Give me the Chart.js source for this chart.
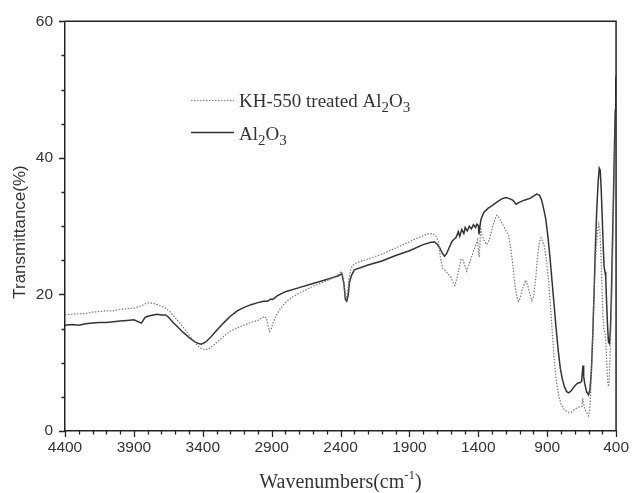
<!DOCTYPE html>
<html>
<head>
<meta charset="utf-8">
<script src="https://cdn.jsdelivr.net/npm/chart.js@4.4.0/dist/chart.umd.min.js"></script>
<style>
html,body{margin:0;padding:0;background:#fff;}
#wrap{width:636px;height:493px;position:relative;}
</style>
</head>
<body>
<div id="wrap"><canvas id="c" width="636" height="493"></canvas></div>
<script>
// ---- data ----
const xTickLabels = [4400, 3900, 3400, 2900, 2400, 1900, 1400, 900, 400];
const yTickLabels = [0, 20, 40, 60];

const al2o3Wavenumbers = [4400,4350,4300,4250,4200,4150,4100,4050,4000,3950,3900,3845,3820,3800,3760,3730,3700,3670,3650,3620,3580,3540,3500,3460,3430,3410,3380,3340,3300,3250,3200,3150,3100,3050,3000,2960,2930,2910,2890,2860,2800,2700,2600,2500,2420,2390,2375,2365,2355,2345,2335,2320,2300,2200,2100,2000,1900,1800,1750,1720,1700,1680,1660,1645,1630,1610,1590,1570,1560,1545,1535,1520,1505,1495,1480,1465,1450,1435,1420,1410,1400,1395,1388,1380,1360,1330,1300,1260,1230,1200,1170,1150,1125,1110,1080,1050,1020,1000,975,955,940,925,910,895,880,865,850,835,820,805,790,775,760,745,730,715,700,680,660,650,645,640,635,628,615,600,590,580,570,560,550,540,530,522,515,508,500,493,487,480,475,470,462,455,448,442,435,428,420,413,406,402,400];
const al2o3Values = [15.5,15.6,15.5,15.7,15.8,15.9,15.9,16.0,16.1,16.2,16.3,15.8,16.6,16.8,17.0,17.1,17.0,17.0,16.7,16.0,15.2,14.4,13.7,13.1,12.8,12.7,13.0,13.8,14.7,15.8,16.8,17.6,18.1,18.5,18.8,19.0,19.0,19.3,19.3,19.8,20.4,21.0,21.6,22.2,22.7,23.0,21.5,19.3,19.0,19.8,21.8,22.8,23.6,24.3,24.9,25.7,26.4,27.3,27.6,27.7,27.4,26.8,26.0,25.6,26.0,26.9,27.8,28.2,28.4,29.2,28.5,29.5,28.9,29.8,29.3,30.0,29.6,30.2,29.8,30.3,30.1,28.8,30.0,31.0,32.0,32.6,33.0,33.6,34.0,34.2,34.0,33.8,33.2,33.4,33.7,33.9,34.1,34.4,34.7,34.5,33.8,32.5,31.0,28.5,25.5,22.0,18.5,15.0,11.8,9.2,7.6,6.5,5.8,5.6,5.8,6.2,6.6,7.0,7.1,7.3,8.5,9.6,8.0,7.0,5.8,5.3,6.0,8.5,13.5,20.0,27.0,32.5,36.5,38.5,38.2,35.5,31.0,27.0,24.0,23.3,22.5,19.5,15.5,13.0,12.8,14.5,19.0,26.0,33.5,40.5,47.0,51.0,52.0];

const treatedWavenumbers = [4400,4350,4300,4250,4200,4150,4100,4050,4000,3950,3900,3850,3820,3790,3760,3730,3700,3670,3640,3610,3570,3530,3490,3450,3420,3390,3360,3320,3280,3240,3200,3150,3100,3050,3000,2970,2950,2935,2925,2915,2905,2890,2870,2840,2800,2750,2700,2600,2500,2420,2395,2380,2367,2358,2348,2338,2325,2300,2200,2100,2000,1900,1850,1800,1760,1730,1710,1690,1675,1660,1640,1620,1600,1580,1570,1555,1540,1525,1510,1495,1485,1470,1455,1440,1420,1405,1398,1393,1388,1383,1375,1360,1340,1320,1300,1280,1265,1250,1230,1210,1195,1180,1165,1150,1135,1120,1108,1095,1080,1065,1055,1040,1025,1012,1000,985,970,955,945,935,920,905,890,875,860,845,830,815,800,780,760,740,720,700,680,660,648,642,636,625,612,600,592,584,575,565,555,545,535,526,518,510,502,495,488,480,473,466,460,455,450,444,437,430,422,415,408,403,400];
const treatedValues = [17.0,17.1,17.2,17.2,17.4,17.5,17.6,17.6,17.8,17.9,18.0,18.3,18.6,18.8,18.7,18.5,18.3,18.0,17.5,16.8,15.9,14.9,13.8,12.8,12.2,11.9,12.0,12.6,13.3,14.0,14.6,15.1,15.5,15.9,16.2,16.6,16.8,16.3,15.3,14.6,14.9,15.8,16.8,17.8,18.8,19.6,20.2,21.2,22.0,22.8,23.4,22.5,20.0,19.5,20.5,22.5,23.8,24.5,25.2,25.9,26.8,27.7,28.2,28.6,28.9,28.9,28.6,27.8,25.5,23.8,23.5,23.0,22.6,21.6,21.3,22.4,23.8,25.2,25.0,24.0,23.4,24.2,25.2,26.0,27.2,28.0,26.0,25.5,27.5,29.8,28.8,28.0,27.3,28.0,29.6,31.0,31.6,31.3,30.5,29.8,29.1,28.7,26.8,24.5,21.5,19.6,19.0,19.5,20.8,21.6,22.1,21.2,20.0,19.1,19.6,22.0,25.5,27.8,28.3,27.9,27.0,25.0,22.0,18.0,13.5,9.5,6.8,5.0,4.0,3.2,2.9,2.7,2.8,3.2,3.4,3.6,3.6,4.8,4.0,3.2,2.6,2.2,3.0,5.5,11.0,17.5,22.5,26.5,29.0,30.3,29.5,26.0,21.0,16.5,14.8,14.2,12.5,9.5,7.0,6.5,7.5,10.5,15.5,20.5,28.0,35.5,42.0,46.5,48.5];

const seriesNames = ['KH-550 treated Al', 'Al'];

// ---- styles ----
const AXIS_COLOR = '#222';
const TEXT_COLOR = '#333';
const SANS = '"Liberation Sans", Arial, sans-serif';
const SERIF = '"Liberation Serif", "Times New Roman", serif';

function toPoints(xs, ys) { return xs.map((x, i) => ({ x: x, y: ys[i] })); }

const decorPlugin = {
  id: 'decor',
  afterDraw(chart) {
    const ctx = chart.ctx;
    const a = chart.chartArea;
    const xs = chart.scales.x, ys = chart.scales.y;
    ctx.save();
    // frame (top and right)
    ctx.strokeStyle = AXIS_COLOR;
    ctx.lineWidth = 1.5;
    ctx.beginPath();
    ctx.moveTo(a.left, a.top); ctx.lineTo(a.right, a.top); ctx.lineTo(a.right, a.bottom);
    ctx.stroke();
    // ticks (major/minor), outward
    ctx.lineWidth = 1.3;
    ctx.beginPath();
    for (let v = 400; v <= 4400; v += 100) {
      const px = Math.round(xs.getPixelForValue(v)) + 0.5;
      const major = (4400 - v) % 500 === 0;
      ctx.moveTo(px, a.bottom);
      ctx.lineTo(px, a.bottom + (major ? 6 : 3.5));
    }
    for (let v = 0; v <= 60; v += 5) {
      const py = Math.round(ys.getPixelForValue(v)) + 0.5;
      const major = v % 20 === 0;
      ctx.moveTo(a.left, py);
      ctx.lineTo(a.left - (major ? 6 : 3.5), py);
    }
    ctx.stroke();

    // y title
    ctx.fillStyle = TEXT_COLOR;
    ctx.save();
    ctx.translate(20, 232);
    ctx.rotate(-Math.PI / 2);
    ctx.font = '17px ' + SANS;
    ctx.textAlign = 'center';
    ctx.textBaseline = 'middle';
    ctx.fillText('Transmittance(%)', 0, 0);
    ctx.restore();

    // x title with superscript
    ctx.textBaseline = 'alphabetic';
    ctx.textAlign = 'left';
    const main = 'Wavenumbers(cm', sup = '-1', end = ')';
    ctx.font = '20px ' + SERIF;
    const w1 = ctx.measureText(main).width;
    const w3 = ctx.measureText(end).width;
    ctx.font = '13px ' + SERIF;
    const w2 = ctx.measureText(sup).width;
    const total = w1 + w2 + w3;
    let x0 = (a.left + a.right) / 2 - total / 2;
    const base = 488;
    ctx.font = '20px ' + SERIF;
    ctx.fillText(main, x0, base);
    ctx.font = '13px ' + SERIF;
    ctx.fillText(sup, x0 + w1, base - 9);
    ctx.font = '20px ' + SERIF;
    ctx.fillText(end, x0 + w1 + w2, base);

    // legend
    const items = [
      { ds: chart.data.datasets[0], name: seriesNames[0], ly: 100.5, base: 107 },
      { ds: chart.data.datasets[1], name: seriesNames[1], ly: 132.5, base: 140 }
    ];
    items.forEach(it => {
      ctx.strokeStyle = it.ds.borderColor;
      ctx.lineWidth = it.ds.borderWidth;
      ctx.setLineDash(it.ds.borderDash || []);
      ctx.beginPath();
      ctx.moveTo(191, it.ly); ctx.lineTo(234, it.ly);
      ctx.stroke();
      ctx.setLineDash([]);
      let tx = 239;
      ctx.fillStyle = TEXT_COLOR;
      const parts = [[it.name, false], ['2', true], ['O', false], ['3', true]];
      parts.forEach(p => {
        ctx.font = (p[1] ? '15px ' : '19px ') + SERIF;
        ctx.fillText(p[0], tx, it.base + (p[1] ? 5 : 0));
        tx += ctx.measureText(p[0]).width;
      });
    });
    ctx.restore();
  }
};

new Chart(document.getElementById('c'), {
  type: 'line',
  data: {
    datasets: [
      {
        label: 'KH-550 treated Al2O3',
        data: toPoints(treatedWavenumbers, treatedValues),
        borderColor: '#7a7a7a',
        borderWidth: 1.2,
        borderDash: [1.5, 1.5],
        pointRadius: 0,
        tension: 0,
        fill: false
      },
      {
        label: 'Al2O3',
        data: toPoints(al2o3Wavenumbers, al2o3Values),
        borderColor: '#333',
        borderWidth: 1.5,
        pointRadius: 0,
        tension: 0,
        fill: false
      }
    ]
  },
  options: {
    responsive: false,
    animation: false,
    devicePixelRatio: 1,
    layout: { padding: { top: 20, right: 13, left: 0, bottom: 0 } },
    plugins: { legend: { display: false }, tooltip: { enabled: false } },
    scales: {
      x: {
        type: 'linear',
        reverse: true,
        min: 400,
        max: 4400,
        afterBuildTicks(scale) { scale.ticks = xTickLabels.map(v => ({ value: v })); },
        afterFit(scale) { scale.height = 62; },
        grid: { display: false, drawTicks: false },
        border: { display: true, color: AXIS_COLOR, width: 1.5 },
        ticks: { color: TEXT_COLOR, font: { family: SANS, size: 15.5 }, padding: 7, maxRotation: 0, autoSkip: false,
                 callback: v => String(v) }
      },
      y: {
        min: 0,
        max: 60,
        afterBuildTicks(scale) { scale.ticks = yTickLabels.map(v => ({ value: v })); },
        afterFit(scale) { scale.width = 65; },
        grid: { display: false, drawTicks: false },
        border: { display: true, color: AXIS_COLOR, width: 1.5 },
        ticks: { color: TEXT_COLOR, font: { family: SANS, size: 15.5 }, padding: 12, callback: v => String(v) }
      }
    }
  },
  plugins: [decorPlugin]
});
</script>
</body>
</html>
